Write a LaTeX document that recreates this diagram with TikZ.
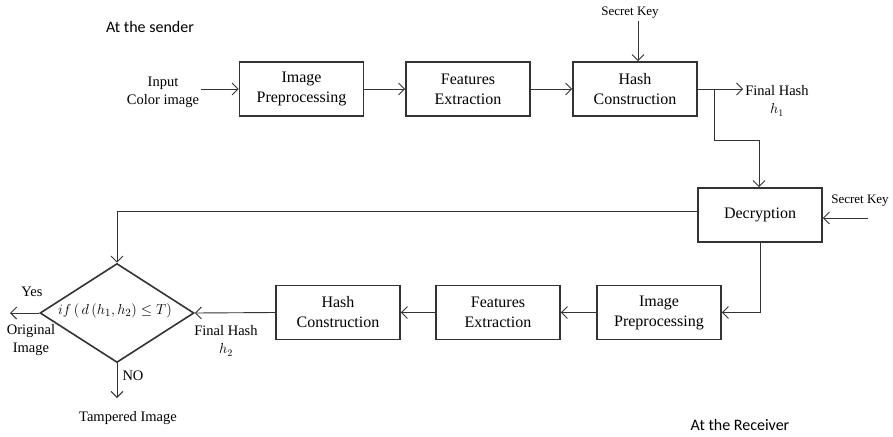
\documentclass[tikz,border=0pt]{standalone}
\usepackage{fontspec}
\setmainfont{Liberation Serif}
\newfontfamily\notefont{Carlito}
\usetikzlibrary{arrows.meta,shapes.geometric}
\begin{document}
\begin{tikzpicture}[x=1pt,y=-1pt,
  ink/.style={draw=black!80},
  block/.style={ink,line width=1.6pt,rectangle,minimum width=124pt,minimum height=54pt,
    inner sep=0pt,align=center,font=\fontsize{16}{20}\selectfont},
  arr/.style={ink,line width=0.9pt,-{Straight Barb[length=6pt,width=12pt,line width=0.9pt]}},
  line/.style={ink,line width=0.9pt},
  lbl/.style={align=center,font=\fontsize{14.5}{18}\selectfont,inner sep=2pt},
  small/.style={font=\fontsize{13}{15}\selectfont,inner sep=2pt},
  note/.style={font=\notefont\fontsize{16}{19}\selectfont,inner sep=0pt}]
\useasboundingbox (0,0) rectangle (893,436);

% sender side
\node[note] (snd) at (150,27) {At the sender};
\node[lbl] (in) at (163,92) {Input\\Color image};
\node[block] (ip1) at (301.5,89) {Image\\Preprocessing};
\node[block] (fe1) at (468,89) {Features\\Extraction};
\node[block] (hc1) at (635,89) {Hash\\Construction};
\node[small] (sk1) at (630,13) {Secret Key};
\node[lbl] (fh1) at (777,101) {Final Hash\\$h_1$};

\draw[arr] (in.east |- ip1.west) -- (ip1.west);
\draw[arr] (ip1) -- (fe1);
\draw[arr] (fe1) -- (hc1);
\draw[arr] (sk1.south -| hc1.north) ++(3,0) coordinate (k1) -- (k1 |- hc1.north);
\draw[arr] (hc1.east) -- (fh1.west |- hc1.east);

% hand-over to the receiver
\coordinate (br) at (714,89);
\coordinate (j1) at (759,140);
\node[block] (dcy) at (760,215) {Decryption};
\draw[arr] (br) |- (j1) -- (j1 |- dcy.north);
\node[small] (sk2) at (860,201) {Secret Key};
\coordinate (k2) at (868,218);
\draw[arr] (k2) -- (k2 -| dcy.east);

% receiver side
\node[block] (ip2) at (659,312.5) {Image\\Preprocessing};
\node[block] (fe2) at (498,312.5) {Features\\Extraction};
\node[block] (hc2) at (338,312.5) {Hash\\Construction};
\node[ink,line width=1.6pt,diamond,minimum width=154pt,minimum height=99pt,inner sep=0pt] (dg) at (117,313) {};
\node[font=\fontsize{15}{18}\selectfont] (cond) at (115,311) {$if\left(\,d\left(h_1,h_2\right)\le T\right)$};

\draw[arr] (dcy.south) |- (ip2.east);
\draw[arr] (ip2) -- (fe2);
\draw[arr] (fe2) -- (hc2);
\draw[arr] (hc2.west) -- (dg.east);
\node[lbl] (fh2) at (226,341) {Final Hash\\$h_2$};

\coordinate (j2) at (117,211);
\draw[arr] (j2 -| dcy.west) -- (j2) -- (dg.north);

\coordinate (yes) at (10,313);
\draw[arr] (dg.west) -- (yes);
\node[lbl] (ylbl) at (32,292) {Yes};
\node[lbl] (orig) at (31,340) {Original\\Image};

\coordinate (no) at (117,398);
\draw[arr] (dg.south) -- (no);
\node[lbl] (nlbl) at (133,376) {NO};
\node[lbl] (tamp) at (128,418) {Tampered Image};

\node[note] (rcv) at (740,425) {At the Receiver};
\end{tikzpicture}
\end{document}
